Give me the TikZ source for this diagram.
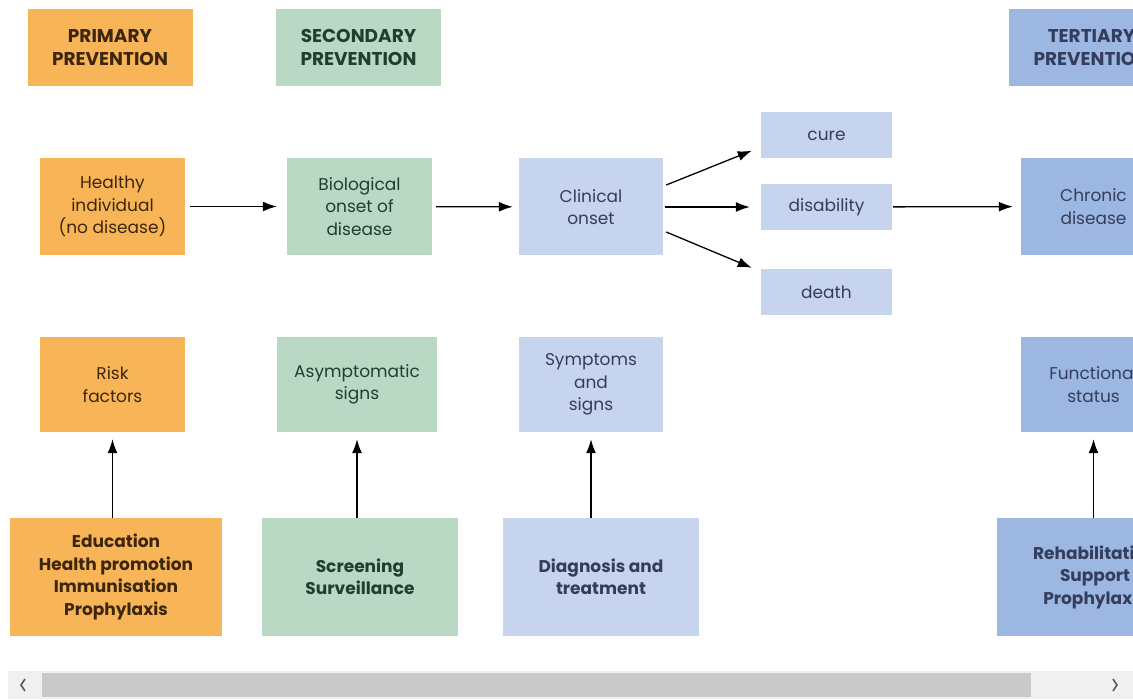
\documentclass[tikz,border=0pt]{standalone}
\usepackage{fontspec}
\setmainfont{Poppins}
\usetikzlibrary{arrows.meta,
                calc}
\definecolor{primfill}{RGB}{248,181,88}
\definecolor{secfill}{RGB}{185,217,196}
\definecolor{clinfill}{RGB}{198,212,237}
\definecolor{tertfill}{RGB}{156,183,225}
\definecolor{primtext}{RGB}{60,38,12}
\definecolor{sectext}{RGB}{34,62,46}
\definecolor{clintext}{RGB}{52,62,92}
\definecolor{barthumb}{RGB}{201,201,201}
\definecolor{bartrack}{RGB}{240,240,240}
\begin{document}
\begin{tikzpicture}[x=1pt, y=-1pt,
    box/.style={rectangle, inner sep=0pt, align=center, font=\fontsize{17}{22.5}\selectfont},
    headbox/.style={box, font=\bfseries\fontsize{18.5}{23}\selectfont, minimum width=165pt, minimum height=77pt},
    stagebox/.style={box, minimum width=145pt, minimum height=97pt},
    outbox/.style={box, minimum width=131pt, minimum height=46pt},
    markbox/.style={box, minimum width=145pt, minimum height=95pt},
    actbox/.style={box, font=\bfseries\fontsize{17}{22.5}\selectfont, minimum width=196pt, minimum height=118pt},
    prim/.style={fill=primfill, text=primtext},
    sec/.style={fill=secfill, text=sectext},
    clin/.style={fill=clinfill, text=clintext},
    tert/.style={fill=tertfill, text=clintext},
    arr/.style={-{Latex[length=14pt, width=10pt]}, line width=1.3pt}]
    \useasboundingbox (0,0) rectangle (1133,700);
    \clip (0,0) rectangle (1133,700);

    \node [headbox, prim] (primhead) at (110,47.5) {PRIMARY\\PREVENTION};
    \node [headbox, sec] (sechead) at (358.5,47.5) {SECONDARY\\PREVENTION};
    \node [headbox, tert] (terthead) at (1091.5,47.5) {TERTIARY\\PREVENTION};

    \node [stagebox, prim] (healthy) at (112.5,206.5) {Healthy\\individual\\(no disease)};
    \node [stagebox, sec] (bio) at (359.5,206.5) {Biological\\onset of\\disease};
    \node [stagebox, clin, minimum width=144pt] (clinical) at (591,207) {Clinical\\onset};
    \node [outbox, clin] (cure) at (826.5,135.5) {cure};
    \node [outbox, clin] (disab) at (826.5,207) {disability};
    \node [outbox, clin] (death) at (826.5,292) {death};
    \node [stagebox, tert] (chronic) at (1093.5,206.5) {Chronic\\disease};

    \node [markbox, prim] (risk) at (112.5,384.5) {Risk\\factors};
    \node [markbox, sec, minimum width=160pt] (asym) at (357,384.5) {Asymptomatic\\signs};
    \node [markbox, clin, minimum width=144pt] (sympt) at (591,384.5) {Symptoms\\and\\signs};
    \node [markbox, tert] (func) at (1093.5,384.5) {Functional\\status};

    \node [actbox, prim, minimum width=212pt] (edu) at (116,577) {Education\\Health promotion\\Immunisation\\Prophylaxis};
    \node [actbox, sec] (screen) at (360,577) {Screening\\Surveillance};
    \node [actbox, clin] (diag) at (601,577) {Diagnosis and\\treatment};
    \node [actbox, tert] (rehab) at (1095,577) {Rehabilitation\\Support\\Prophylaxis};

    \draw [arr, shorten <=5pt, shorten >=10pt] (healthy) -- (bio);
    \draw [arr, shorten <=4pt, shorten >=6pt] (bio) -- (clinical);
    \draw [arr] ($(clinical.east)+(3,-22)$) -- ($(cure.south west)+(-9,-8)$);
    \draw [arr, shorten <=2pt, shorten >=11pt] (clinical) -- (disab);
    \draw [arr] ($(clinical.east)+(3,25)$) -- ($(death.north west)+(-9,-1)$);
    \draw [arr, shorten <=1pt, shorten >=8pt] (disab) -- (chronic);

    \draw [arr, shorten >=7pt] (risk.south |- edu.north) -- (risk.south);
    \draw [arr, shorten >=7pt] (asym.south |- screen.north) -- (asym.south);
    \draw [arr, shorten >=7pt] (sympt.south |- diag.north) -- (sympt.south);
    \draw [arr, shorten >=7pt] (func.south |- rehab.north) -- (func.south);

    \fill [bartrack] (8,671) rectangle (1133,699);
    \fill [barthumb] (42,673) rectangle (1031,697);
    \draw [line width=1.6pt, gray!70!black] (25,679) -- (21,685) -- (25,691);
    \draw [line width=1.6pt, gray!70!black] (1113,679) -- (1117,685) -- (1113,691);
\end{tikzpicture}
\end{document}
